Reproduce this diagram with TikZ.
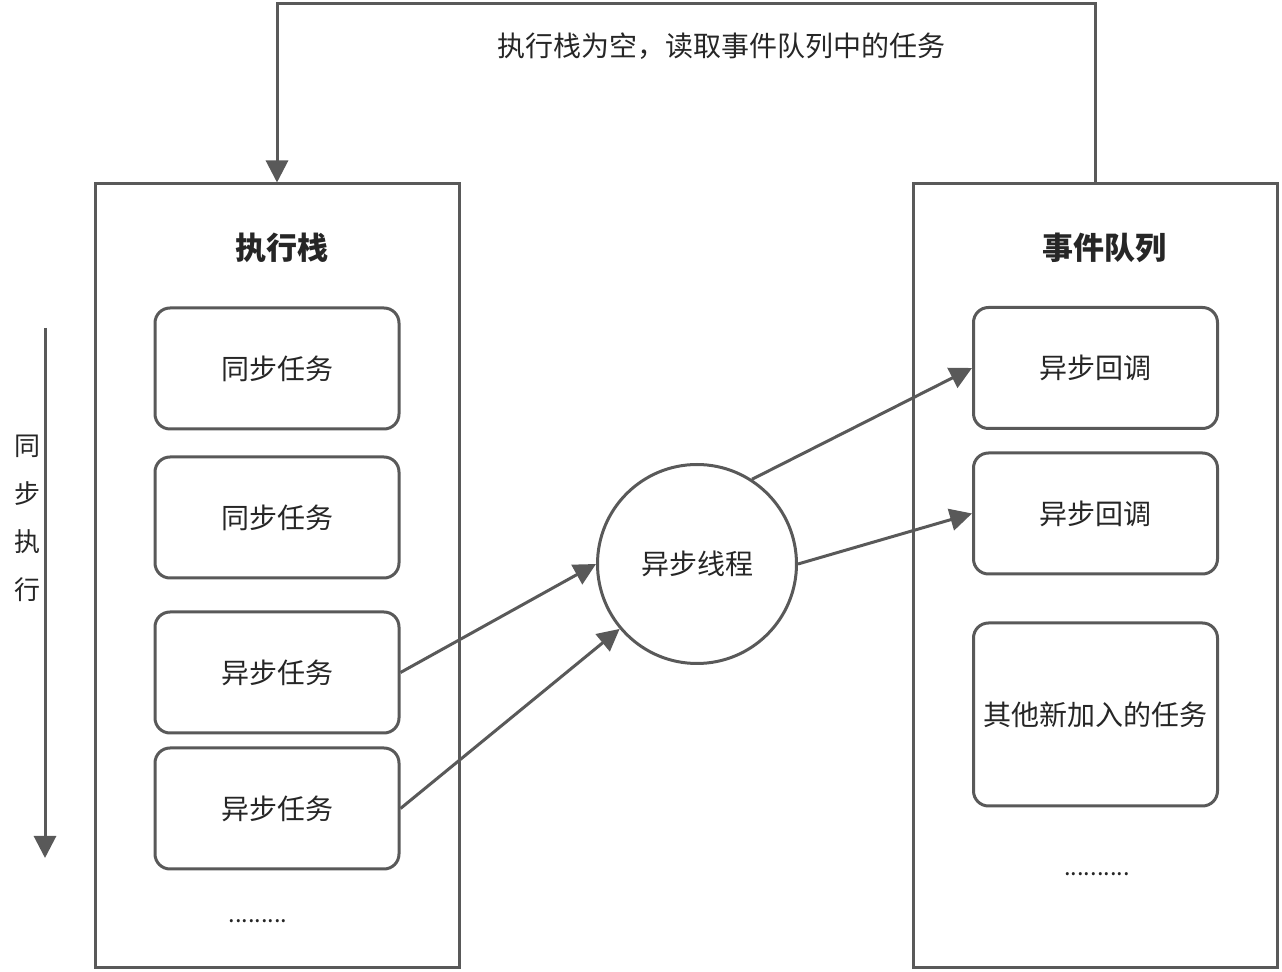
\documentclass[tikz,border=0pt]{standalone}
\usepackage{fontspec}
\setmainfont{Noto Sans CJK SC}
\usepackage{tikz}
\usepackage{xcolor}
\usetikzlibrary{arrows.meta}
\definecolor{linegray}{HTML}{595959}
\definecolor{textgray}{HTML}{262626}
\tikzset{
    outer-box/.style = {draw=linegray, line width=1.5pt, rectangle, minimum width=182pt, minimum height=392pt},
    task-box/.style = {draw=linegray, fill=white, line width=1.5pt, rectangle, rounded corners=7.5pt, minimum width=122pt, minimum height=60.5pt, text=textgray, font=\fontsize{14pt}{16pt}\selectfont},
    box-title/.style = {text=textgray, font=\fontsize{15.5pt}{18pt}\selectfont\bfseries},
    thread-circle/.style = {draw=linegray, fill=white, line width=1.5pt, circle, minimum size=99.5pt, inner sep=0pt, text=textgray, font=\fontsize{14pt}{16pt}\selectfont},
    flow-arrow/.style = {draw=linegray, line width=1.5pt, -{Triangle[length=11pt, width=11pt]}},
    plain-text/.style = {text=textgray, font=\fontsize{14pt}{16pt}\selectfont},
    more-dots/.style = {text=textgray, font=\fontsize{11.8pt}{14pt}\selectfont},
}

\begin{document}
\begin{tikzpicture}[x=0.5pt, y=-0.5pt]
\useasboundingbox (0,0) rectangle (1282,972);
% the two columns
\node [outer-box] (stack) at (277,576) {};
\node [outer-box] (queue) at (1095.5,576) {};
\node [box-title] at (282,248) {执行栈};
\node [box-title] at (1104,248) {事件队列};
% execution stack
\node [task-box] (sync-a) at (277,368.5) {同步任务};
\node [task-box] (sync-b) at (277,517.5) {同步任务};
\node [task-box] (async-a) at (277,672.5) {异步任务};
\node [task-box] (async-b) at (277,808.5) {异步任务};
\node [more-dots] (stack-more) at (258,921) {.........};
% event queue
\node [task-box] (callback-a) at (1095.5,368) {异步回调};
\node [task-box] (callback-b) at (1095.5,513.5) {异步回调};
\node [task-box, minimum height=91.5pt] (new-task) at (1095.5,714.5) {其他新加入的任务};
\node [more-dots] (queue-more) at (1097,874) {..........};
% async thread
\node [thread-circle] (thread) at (697,564) {异步线程};
\draw [flow-arrow] (async-a.east) -- (thread.west);
\draw [flow-arrow] (async-b.east) -- (thread.220);
\draw [flow-arrow] (thread.57) -- (callback-a.west);
\draw [flow-arrow] (thread.east) -- (callback-b.west);
% loop back to the stack
\coordinate (loop-top) at (697,4);
\draw [flow-arrow] (queue.north) |- (loop-top) -| (stack.north);
\node [plain-text] (loop-label) at (721,46) {执行栈为空，读取事件队列中的任务};
% sync direction
\coordinate (sync-start) at (45,328);
\coordinate (sync-end) at (45,858);
\draw [flow-arrow] (sync-start) -- (sync-end);
\node [text=textgray, font=\fontsize{13pt}{24pt}\selectfont, align=center] (sync-label) at (27,518) {同\\步\\执\\行};
\end{tikzpicture}
\end{document}
